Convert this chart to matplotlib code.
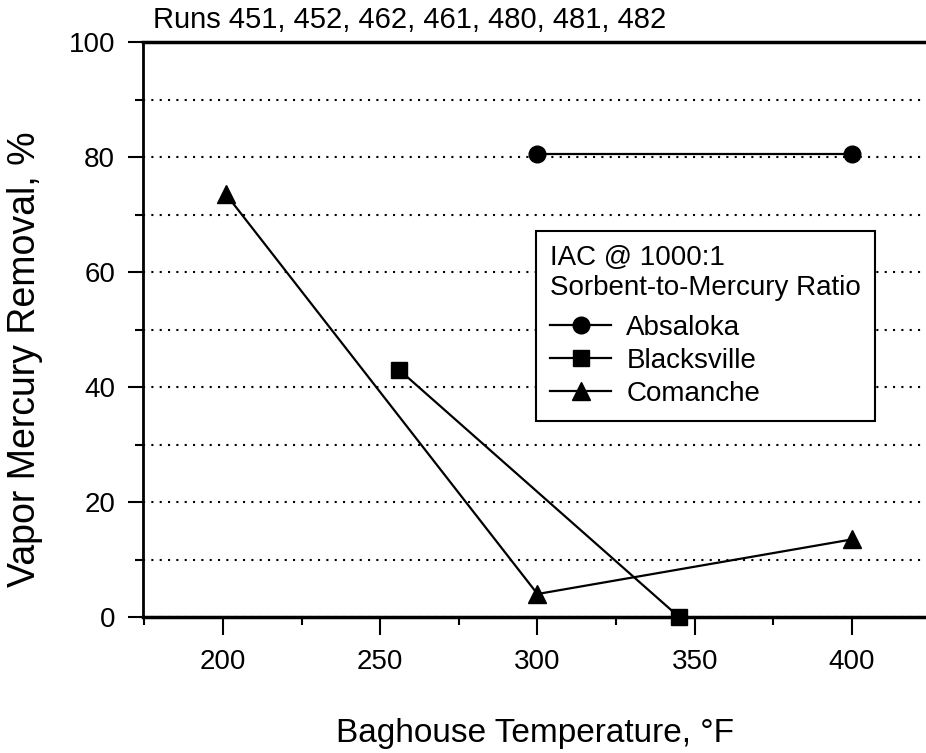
import matplotlib
matplotlib.use("Agg")
import matplotlib.pyplot as plt
from matplotlib.ticker import MultipleLocator

plt.rcParams['font.family'] = ['Liberation Sans', 'DejaVu Sans']

# data
absaloka_t = [300, 400]
absaloka_hg = [80.5, 80.5]
blacksville_t = [256, 345]
blacksville_hg = [43.0, 0.0]
comanche_t = [201, 300, 400]
comanche_hg = [73.5, 4.0, 13.5]

title = "Runs 451, 452, 462, 461, 480, 481, 482"
legend_title = "IAC @ 1000:1\nSorbent-to-Mercury Ratio"

fig = plt.figure(figsize=(9.26, 7.53), dpi=100)
ax = fig.add_axes([143/926, 1 - 617/753, 783/926, 575/753])

ax.plot(absaloka_t, absaloka_hg, color='black', lw=1.6, marker='o', ms=12,
        label='Absaloka', clip_on=False, zorder=3)
ax.plot(blacksville_t, blacksville_hg, color='black', lw=1.6, marker='s', ms=11,
        label='Blacksville', clip_on=False, zorder=3)
ax.plot(comanche_t, comanche_hg, color='black', lw=1.6, marker='^', ms=13,
        label='Comanche', clip_on=False, zorder=3)

ax.set_xlim(174.6, 423.5)
ax.set_ylim(0, 100)
ax.xaxis.set_major_locator(MultipleLocator(50))
ax.xaxis.set_minor_locator(MultipleLocator(25))
ax.yaxis.set_major_locator(MultipleLocator(20))
ax.yaxis.set_minor_locator(MultipleLocator(10))

ax.tick_params(axis='x', which='major', direction='out', length=13, width=1.5,
               pad=10, labelsize=20)
ax.tick_params(axis='x', which='minor', direction='out', length=6, width=1.5)
ax.tick_params(axis='y', which='major', direction='out', length=11, width=1.5,
               pad=9, labelsize=20)
ax.tick_params(axis='y', which='minor', direction='out', length=6, width=1.5)

ax.grid(axis='y', which='both', color='black', lw=1.5, linestyle=(0, (1, 3)))
ax.set_axisbelow(True)

ax.spines['right'].set_visible(False)
ax.spines['top'].set_linewidth(2.5)
ax.spines['bottom'].set_linewidth(2.5)
ax.spines['left'].set_linewidth(2)

ax.set_xlabel("Baghouse Temperature, °F", fontsize=24)
ax.xaxis.set_label_coords(0.5, -0.175)
ax.set_ylabel("Vapor Mercury Removal, %", fontsize=27)
ax.yaxis.set_label_coords(-0.128, 0.449)

fig.text(153/926, 1 - 28/753, title, fontsize=21, va='baseline', ha='left')

leg = ax.legend(loc='upper left', bbox_to_anchor=(0.502, 0.671), borderaxespad=0,
                title=legend_title, alignment='left', fontsize=20, title_fontsize=20,
                numpoints=1, handlelength=2.2, handletextpad=0.55, labelspacing=0.25,
                fancybox=False, framealpha=1, edgecolor='black', borderpad=0.5)
leg.get_frame().set_linewidth(1.5)
# a little more room between the two-line title and the entries
leg._legend_box.sep = 10

fig.savefig("out.png", dpi=100)
